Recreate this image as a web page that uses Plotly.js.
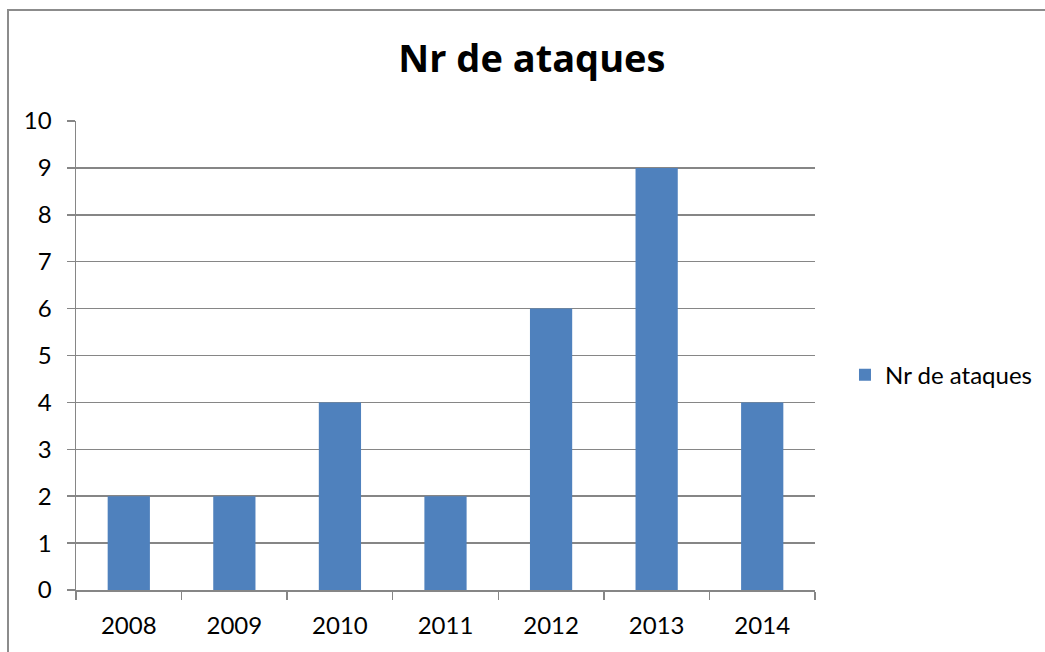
<!DOCTYPE html>
<html>
<head>
<meta charset="utf-8">
<script src="https://cdn.plot.ly/plotly-3.0.1.min.js"></script>
<style>
html,body{margin:0;padding:0;background:#fff;}
#chart{position:absolute;left:0;top:0;width:1045px;height:652px;}
#frame{position:absolute;left:7px;top:9px;width:1100px;height:700px;border-left:2px solid #8c8c8c;border-top:2px solid #8c8c8c;pointer-events:none;}
</style>
</head>
<body>
<div id="chart"></div>
<div id="frame"></div>
<script>
const years = ['2008','2009','2010','2011','2012','2013','2014'];
const ataques = [2, 2, 4, 2, 6, 9, 4];
const seriesName = 'Nr de ataques';
const chartTitle = 'Nr de ataques';

const font = 'Lato, "Open Sans", sans-serif';
const titleFont = '"Open Sans", Lato, sans-serif';
const gray = '#868686';

Plotly.newPlot('chart', [{
  type: 'bar',
  x: years,
  y: ataques,
  name: seriesName,
  showlegend: true,
  marker: {color: '#4F81BD', line: {width: 0}},
  hoverinfo: 'x+y'
}], {
  width: 1045, height: 652,
  margin: {l: 76, r: 230, t: 121, b: 62},
  paper_bgcolor: '#fff', plot_bgcolor: '#fff',
  font: {family: font, color: '#000', size: 24},
  title: {text: '<b>' + chartTitle + '</b>', font: {family: titleFont, size: 38, color: '#000'}, x: 0.509, xanchor: 'center', xref: 'container', y: 0.9095, yanchor: 'middle', yref: 'container'},
  bargap: 0.6,
  xaxis: {
    type: 'category', automargin: false,
    showline: true, linecolor: gray, linewidth: 1.5,
    ticks: 'outside', tickson: 'boundaries', ticklen: 8, tickcolor: gray, tickwidth: 1.5,
    showgrid: false, zeroline: false,
    ticklabelstandoff: 14,
    tickfont: {family: font, size: 24, color: '#000'}
  },
  yaxis: {
    range: [0, 10], dtick: 1, tick0: 0, automargin: false,
    showline: true, linecolor: gray, linewidth: 1.5,
    ticks: 'outside', ticklen: 8, tickcolor: gray, tickwidth: 1.5,
    showgrid: true, gridcolor: gray, gridwidth: 1.5,
    zeroline: false,
    ticklabelstandoff: 10,
    tickfont: {family: font, size: 24, color: '#000'}
  },
  showlegend: true,
  legend: {
    xref: 'container', yref: 'container',
    x: 0.8086, xanchor: 'left', y: 0.4245, yanchor: 'middle',
    font: {family: font, size: 24, color: '#000'},
    bgcolor: 'rgba(0,0,0,0)', itemwidth: 30
  }
}, {staticPlot: true});
</script>
</body>
</html>
